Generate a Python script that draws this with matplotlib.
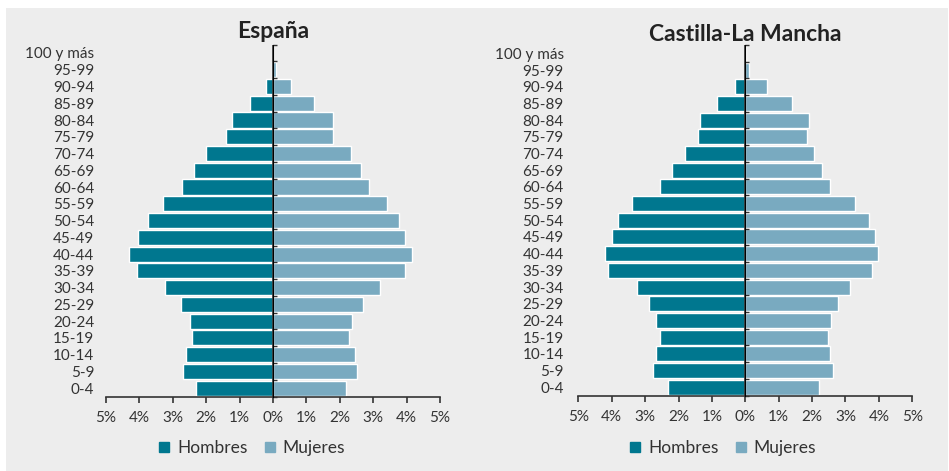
import numpy as np
import matplotlib
matplotlib.use('Agg')
import matplotlib.pyplot as plt
from matplotlib.lines import Line2D
from matplotlib.patches import Rectangle

# ===================== DATOS =====================
grupos = ['0-4', '5-9', '10-14', '15-19', '20-24', '25-29', '30-34', '35-39',
          '40-44', '45-49', '50-54', '55-59', '60-64', '65-69', '70-74',
          '75-79', '80-84', '85-89', '90-94', '95-99', '100 y más']

esp_hombres = [2.31, 2.69, 2.59, 2.42, 2.49, 2.75, 3.22, 4.06, 4.31, 4.03,
               3.74, 3.29, 2.71, 2.38, 2.00, 1.40, 1.22, 0.68, 0.22, 0.03, 0.0]
esp_mujeres = [2.18, 2.52, 2.45, 2.27, 2.38, 2.70, 3.19, 3.95, 4.16, 3.95,
               3.76, 3.41, 2.88, 2.63, 2.33, 1.79, 1.81, 1.22, 0.54, 0.08, 0.01]

clm_hombres = [2.30, 2.75, 2.67, 2.55, 2.67, 2.88, 3.24, 4.10, 4.21, 3.98,
               3.80, 3.39, 2.55, 2.19, 1.81, 1.41, 1.36, 0.86, 0.32, 0.02, 0.0]
clm_mujeres = [2.22, 2.63, 2.53, 2.47, 2.58, 2.77, 3.12, 3.78, 3.96, 3.87,
               3.70, 3.29, 2.55, 2.31, 2.07, 1.84, 1.91, 1.41, 0.66, 0.10, 0.01]

xticks = [-5, -4, -3, -2, -1, 0, 1, 2, 3, 4, 5]
xlabels = ['5%', '4%', '3%', '2%', '1%', '0%', '1%', '2%', '3%', '4%', '5%']
# =================================================

C_HOM = '#00778f'
C_MUJ = '#79aac0'
C_TXT = '#333333'
BG = '#ededed'

plt.rcParams['font.family'] = ['Lato', 'DejaVu Sans']

W, H = 949, 471
fig = plt.figure(figsize=(W / 100, H / 100), dpi=100)
fig.patch.set_facecolor('white')
fig.patches.append(Rectangle((6 / W, 0), (948 - 6) / W, 1 - 8 / H,
                             transform=fig.transFigure, facecolor=BG,
                             edgecolor='none', zorder=-10))


def pyramid(rect, hombres, mujeres, titulo, title_pad, label_pad, leg_x):
    ax = fig.add_axes(rect)
    ax.set_facecolor('none')
    y = np.arange(len(grupos))
    ax.barh(y, -np.array(hombres), height=0.9, color=C_HOM,
            edgecolor='white', linewidth=1.0, zorder=2)
    ax.barh(y, mujeres, height=0.9, color=C_MUJ,
            edgecolor='white', linewidth=1.0, zorder=2)
    ax.set_xlim(-5, 5)
    ax.set_ylim(-0.5, len(grupos) - 0.5)

    for s in ('top', 'right', 'left'):
        ax.spines[s].set_visible(False)
    ax.spines['bottom'].set_color(C_TXT)
    ax.spines['bottom'].set_linewidth(1.2)

    ax.set_xticks(xticks)
    ax.set_xticklabels(xlabels)
    ax.tick_params(axis='x', length=4, width=1.2, color=C_TXT,
                   labelsize=11, labelcolor=C_TXT, pad=6.5)
    ax.set_yticks(y)
    ax.set_yticklabels(grupos)
    ax.tick_params(axis='y', length=0, labelsize=11, labelcolor=C_TXT,
                   pad=label_pad)

    # eje central con marcas entre grupos
    ax.axvline(0, color=C_TXT, linewidth=1.2, zorder=3)
    sec = ax.secondary_yaxis(0.5)
    sec.set_zorder(4)
    sec.set_yticks(np.arange(-0.5, len(grupos), 1.0))
    sec.set_yticklabels([])
    sec.tick_params(length=3, width=1.0, color=C_TXT, direction='out')
    sec.spines['left'].set_visible(False)

    ax.set_title(titulo, fontsize=16.5, fontweight='bold', color='#222222',
                 pad=title_pad)

    handles = [Line2D([], [], marker='s', linestyle='none', markersize=6.5,
                      color=C_HOM, label='Hombres'),
               Line2D([], [], marker='s', linestyle='none', markersize=6.5,
                      color=C_MUJ, label='Mujeres')]
    fig.legend(handles=handles, loc='center', ncol=2, frameon=False,
               bbox_to_anchor=(leg_x / W, 1 - 448 / H),
               bbox_transform=fig.transFigure, fontsize=12.5,
               labelcolor=C_TXT, handlelength=0.6, handletextpad=0.45,
               columnspacing=1.0)
    return ax


pyramid([106 / W, 1 - 396.5 / H, 334 / W, (396.5 - 44.6) / H],
        esp_hombres, esp_mujeres, 'España', 5, 8.5, 252)
pyramid([578.3 / W, 1 - 395.5 / H, 334 / W, (395.5 - 45) / H],
        clm_hombres, clm_mujeres, 'Castilla-La Mancha', 1.5, 10.5, 723)

fig.savefig('out.png', dpi=100, facecolor=fig.get_facecolor())
